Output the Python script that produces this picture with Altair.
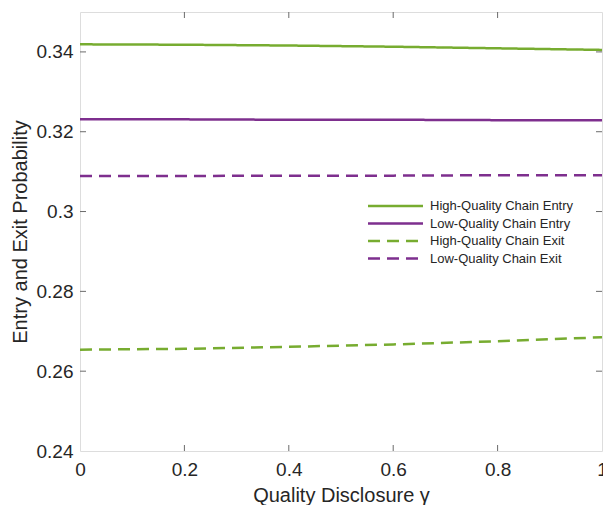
import altair as alt
import pandas as pd

# Quality disclosure levels
gamma = [0.0, 0.2, 0.4, 0.6, 0.8, 1.0]

# Entry / exit probabilities for each chain type
high_entry = [0.3419, 0.3418, 0.3416, 0.3413, 0.3409, 0.3405]
low_entry = [0.3231, 0.3231, 0.3230, 0.3230, 0.3229, 0.3229]
high_exit = [0.2654, 0.2656, 0.2661, 0.2667, 0.2675, 0.2685]
low_exit = [0.3089, 0.3089, 0.3090, 0.3090, 0.3091, 0.3091]

series_names = [
    "High-Quality Chain Entry",
    "Low-Quality Chain Entry",
    "High-Quality Chain Exit",
    "Low-Quality Chain Exit",
]
series_values = [high_entry, low_entry, high_exit, low_exit]

x_ticks = [0, 0.2, 0.4, 0.6, 0.8, 1]
y_ticks = [0.24, 0.26, 0.28, 0.30, 0.32, 0.34]

rows = []
for name, vals in zip(series_names, series_values):
    for g, v in zip(gamma, vals):
        rows.append({"gamma": g, "prob": v, "series": name})
df = pd.DataFrame(rows)
legend_df = pd.DataFrame({"series": series_names})

GREEN = "#77AC30"
PURPLE = "#7E2F8E"
AXIS_GRAY = "#6b6b6b"
TEXT = "#262626"
W, H = 522, 439
TICK = 6

x_scale = alt.Scale(domain=[0, 1], nice=False, zero=False)
y_scale = alt.Scale(domain=[0.24, 0.35], nice=False, zero=False)
color_scale = alt.Scale(domain=series_names, range=[GREEN, PURPLE, GREEN, PURPLE])
dash_scale = alt.Scale(domain=series_names, range=[[1, 0], [1, 0], [12, 7], [12, 7]])

lines = alt.Chart(df).mark_line(strokeWidth=2.5, clip=True).encode(
    x=alt.X(
        "gamma:Q",
        scale=x_scale,
        axis=alt.Axis(
            values=x_ticks,
            ticks=False,
            domain=False,
            grid=False,
            labelFontSize=19,
            labelColor=TEXT,
            labelPadding=9,
            labelFlush=False,
            labelExpr="datum.value == 0 ? '0' : (datum.value == 1 ? '1' : format(datum.value, '.1f'))",
            title="Quality Disclosure γ",
            titleFontSize=20,
            titleFontWeight="normal",
            titleColor=TEXT,
            titlePadding=6,
        ),
    ),
    y=alt.Y(
        "prob:Q",
        scale=y_scale,
        axis=alt.Axis(
            values=y_ticks,
            ticks=False,
            domain=False,
            grid=False,
            labelFontSize=19,
            labelColor=TEXT,
            labelPadding=7,
            labelFlush=False,
            labelExpr="datum.value == 0.3 ? '0.3' : format(datum.value, '.2f')",
            title="Entry and Exit Probability",
            titleFontSize=20,
            titleFontWeight="normal",
            titleColor=TEXT,
            titlePadding=6,
        ),
    ),
    color=alt.Color("series:N", scale=color_scale, legend=None),
    strokeDash=alt.StrokeDash("series:N", scale=dash_scale, legend=None),
)

# Legend box drawn inside the plot: one row per series
legend_y = alt.Y(
    "series:N",
    scale=alt.Scale(type="point", domain=series_names, range=[194, 246.5], padding=0),
    axis=None,
)
legend_lines = alt.Chart(legend_df).mark_rule(strokeWidth=2.5).encode(
    x=alt.value(288),
    x2=alt.value(343),
    y=legend_y,
    color=alt.Color("series:N", scale=color_scale, legend=None),
    strokeDash=alt.StrokeDash("series:N", scale=dash_scale, legend=None),
)
legend_text = alt.Chart(legend_df).mark_text(
    align="left", baseline="middle", fontSize=13, color=TEXT, dx=0
).encode(
    x=alt.value(350),
    y=legend_y,
    text="series:N",
)

xt = pd.DataFrame({"t": x_ticks[1:-1]})
yt = pd.DataFrame({"t": y_ticks[1:]})

bottom_ticks = alt.Chart(xt).mark_rule(color=AXIS_GRAY, strokeWidth=1).encode(
    x=alt.X("t:Q", scale=x_scale), y=alt.value(H), y2=alt.value(H - TICK)
)
top_ticks = alt.Chart(xt).mark_rule(color=AXIS_GRAY, strokeWidth=1).encode(
    x=alt.X("t:Q", scale=x_scale), y=alt.value(0), y2=alt.value(TICK)
)
left_ticks = alt.Chart(yt).mark_rule(color=AXIS_GRAY, strokeWidth=1).encode(
    y=alt.Y("t:Q", scale=y_scale, axis=None), x=alt.value(0), x2=alt.value(TICK)
)
right_ticks = alt.Chart(yt).mark_rule(color=AXIS_GRAY, strokeWidth=1).encode(
    y=alt.Y("t:Q", scale=y_scale, axis=None), x=alt.value(W), x2=alt.value(W - TICK)
)

chart = (
    alt.layer(
        lines, bottom_ticks, top_ticks, left_ticks, right_ticks, legend_lines, legend_text
    )
    .resolve_scale(y="independent")
    .properties(
        width=W,
        height=H,
        autosize=alt.AutoSizeParams(type="none"),
        padding={"left": 80, "top": 12, "right": 1, "bottom": 54},
        background="white",
    )
    .configure_view(stroke=AXIS_GRAY, strokeWidth=1.2)
    .configure(font="Liberation Sans")
)

chart.save("out.html", embed_options={"renderer": "svg", "actions": False})
